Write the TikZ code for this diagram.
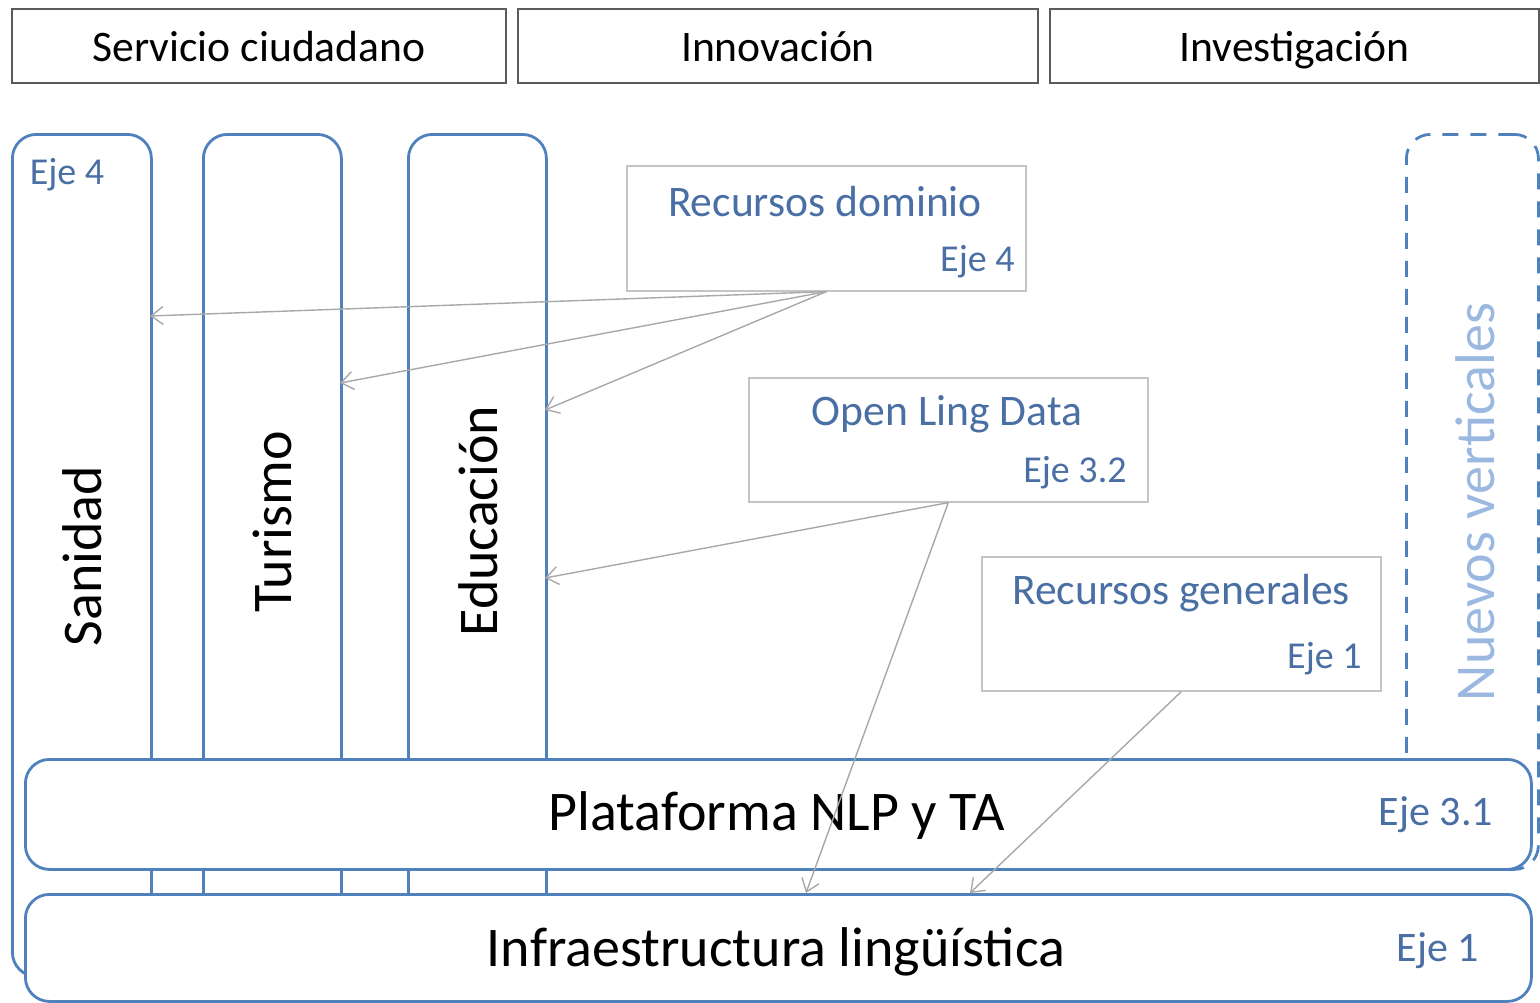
\documentclass[tikz,border=0pt]{standalone}
\usepackage{fontspec}
\setmainfont{Carlito}
\usetikzlibrary{arrows.meta}
\definecolor{bord}{HTML}{4F81BD}
\definecolor{ejeblue}{HTML}{4A6FA5}
\definecolor{lightblue}{HTML}{9BB8E0}
\definecolor{topgray}{HTML}{5A5A5A}
\definecolor{resgray}{HTML}{C4C4C4}
\definecolor{arrgray}{HTML}{A8A8A8}
\begin{document}
\begin{tikzpicture}[x=0.5pt,y=-0.5pt,
  topbox/.style={draw=topgray,line width=1pt,fill=white,anchor=north west,inner sep=0pt,minimum height=37pt,font=\fontsize{21.8}{26}\selectfont,text height=15.5pt,text depth=0pt},
  vbox/.style={draw=bord,line width=1.4pt,fill=white,rounded corners=12pt,anchor=north west,inner sep=0pt,minimum height=421pt},
  dbox/.style={draw=bord,line width=1.4pt,dash pattern=on 8pt off 6pt,rounded corners=12pt,anchor=north west,inner sep=0pt},
  hbar/.style={draw=bord,line width=1.4pt,fill=white,rounded corners=12pt,anchor=north west,inner sep=0pt,minimum width=753pt},
  resbox/.style={draw=resgray,line width=0.8pt,fill=white,anchor=north west,inner sep=0pt,minimum width=199.5pt},
  vtext/.style={rotate=90,font=\fontsize{28}{34}\selectfont,inner sep=0pt},
  bigtext/.style={font=\fontsize{28}{34}\selectfont,inner sep=0pt},
  restitle/.style={text=ejeblue,font=\fontsize{21.8}{26}\selectfont,inner sep=0pt},
  eje/.style={text=ejeblue,font=\fontsize{19}{23}\selectfont,inner sep=0pt},
  ejebig/.style={text=ejeblue,font=\fontsize{21}{25}\selectfont,inner sep=0pt},
  conn/.style={draw=arrgray,line width=0.7pt,-{Straight Barb[length=6pt,width=9pt]}}
]
\useasboundingbox (0,0) rectangle (1540,1002);

% vertical domains
\node[vbox,minimum width=69.5pt] (san) at (11,133) {};
\node[vbox,minimum width=69pt] (tur) at (202,133) {};
\node[vbox,minimum width=69pt] (edu) at (407,133) {};
\node[dbox,minimum width=66pt,minimum height=367.5pt] (nue) at (1405,133) {};

\node[eje] (san4) at (67,175) {Eje 4};
\node[vtext] (sant) at (82,556) {Sanidad};
\node[vtext] (turt) at (272,522) {Turismo};
\node[vtext] (edut) at (478,521) {Educación};
\node[vtext,text=lightblue] (nuet) at (1475,502) {Nuevos verticales};

% horizontal layers
\node[hbar,minimum height=55pt] (pla) at (24,758) {};
\node[hbar,minimum height=53.5pt] (inf) at (24,893) {};
\node[bigtext] (plat) at (777,816) {Plataforma NLP y TA};
\node[ejebig] (pla31) at (1436,815) {Eje 3.1};
\node[bigtext] (inft) at (776,952) {Infraestructura lingüística};
\node[ejebig] (inf1) at (1438,951) {Eje 1};

% top boxes
\node[topbox,minimum width=247pt] (serv) at (11,8) {Servicio ciudadano};
\node[topbox,minimum width=260pt] (inno) at (517,8) {Innovación};
\node[topbox,minimum width=244.5pt] (inve) at (1049,8) {Investigación};

% resources
\node[resbox,minimum height=62.5pt] (dom) at (626,165) {};
\node[restitle] (domt) at (825,202) {Recursos dominio};
\node[eje,anchor=east] (dom4) at (1015,262) {Eje 4};

\node[resbox,minimum height=62pt] (old) at (748,377) {};
\node[restitle] (oldt) at (947,414) {Open Ling Data};
\node[eje,anchor=east] (old32) at (1127,473) {Eje 3.2};

\node[resbox,minimum height=67pt] (rg) at (981,556) {};
\node[restitle] (rgt) at (1181,593) {Recursos generales};
\node[eje,anchor=east] (rg1) at (1362,659) {Eje 1};

% arrow targets
\coordinate (sanIn) at (150,316);
\coordinate (turIn) at (340,383);
\coordinate (eduIn1) at (545,410);
\coordinate (eduIn2) at (545,578);
\coordinate (infIn1) at (806,893);
\coordinate (infIn2) at (970,893);

\draw[conn] (dom.south) -- (sanIn);
\draw[conn] (dom.south) -- (turIn);
\draw[conn] (dom.south) -- (eduIn1);
\draw[conn] (old.south) -- (eduIn2);
\draw[conn] (old.south) -- (infIn1);
\draw[conn] (rg.south) -- (infIn2);
\end{tikzpicture}
\end{document}
